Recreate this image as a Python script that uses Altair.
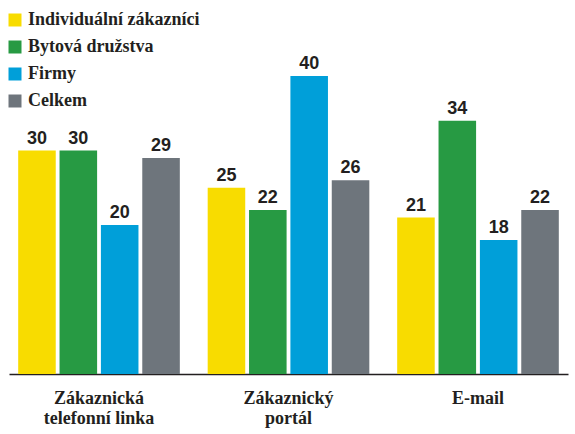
import altair as alt
import pandas as pd

categories = ["Zákaznická\ntelefonní linka", "Zákaznický\nportál", "E-mail"]
series = ["Individuální zákazníci", "Bytová družstva", "Firmy", "Celkem"]
colors = ["#f8dc00", "#279a43", "#009fd9", "#6e757c"]
v_individual = [30, 25, 21]
v_druzstva = [30, 22, 34]
v_firmy = [20, 40, 18]
v_celkem = [29, 26, 22]

rows = []
for s, vals in zip(series, [v_individual, v_druzstva, v_firmy, v_celkem]):
    for c, v in zip(categories, vals):
        rows.append({"cat": c, "series": s, "value": v})
df = pd.DataFrame(rows)

FONT = "Liberation Sans Narrow"
DARK = "#231f20"

x = alt.X("cat:N", sort=categories,
          scale=alt.Scale(paddingInner=0.147, paddingOuter=0.0485),
          axis=alt.Axis(title=None, labelAngle=0, ticks=False, grid=False,
                        domainColor=DARK, domainWidth=1.5,
                        labelFont=FONT, labelFontSize=18, labelFontWeight="bold",
                        labelColor=DARK, labelPadding=15, labelLineHeight=20,
                        labelExpr="split(datum.value, '\\n')"))
xo = alt.XOffset("series:N", sort=series,
                 scale=alt.Scale(paddingInner=0.092, paddingOuter=0))
y = alt.Y("value:Q", scale=alt.Scale(domain=[0, 40], nice=False), axis=None)

base = alt.Chart(df)
bars = base.mark_bar().encode(
    x=x, xOffset=xo, y=y,
    color=alt.Color("series:N", sort=series,
                    scale=alt.Scale(domain=series, range=colors),
                    legend=alt.Legend(title=None, orient="none", legendX=-3, legendY=-65,
                                      symbolType="square", symbolSize=169,
                                      symbolStrokeWidth=0, labelFont=FONT,
                                      labelFontSize=18, labelFontWeight="bold",
                                      labelColor=DARK, rowPadding=9, padding=0,
                                      labelOffset=4, labelLimit=400)),
)
labels = base.mark_text(font="Liberation Sans", fontWeight="bold", fontSize=18,
                        color=DARK, baseline="alphabetic", dy=-7).encode(
    x=x, xOffset=xo, y=y, text="value:Q")

chart = (bars + labels).properties(
    width=559, height=298,
    autosize=alt.AutoSizeParams(type="none"),
    padding={"left": 9, "top": 76, "right": 7, "bottom": 60},
).configure_view(stroke=None)

chart.save("out.html", embed_options={"renderer": "svg", "actions": False})
